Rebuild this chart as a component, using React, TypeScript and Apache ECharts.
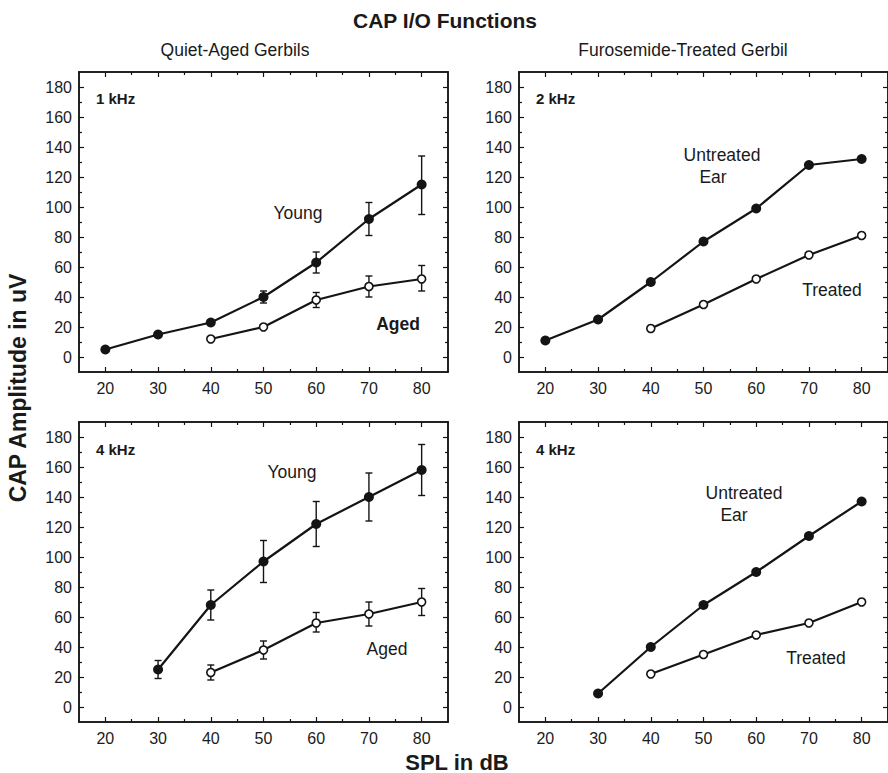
import React, { useEffect, useRef } from "react";
import * as echarts from "echarts";

// ---- data ----
const spl = [20, 30, 40, 50, 60, 70, 80];
const splFrom30 = [30, 40, 50, 60, 70, 80];
const splFrom40 = [40, 50, 60, 70, 80];

// 1 kHz, quiet-aged gerbils
const young1k = [5, 15, 23, 40, 63, 92, 115];
const young1kLow = [null, null, null, 36, 56, 81, 95];
const young1kHigh = [null, null, null, 44, 70, 103, 134];
const aged1k = [12, 20, 38, 47, 52];
const aged1kLow = [null, null, 33, 40, 44];
const aged1kHigh = [null, null, 43, 54, 61];

// 2 kHz, furosemide-treated gerbil
const untreated2k = [11, 25, 50, 77, 99, 128, 132];
const treated2k = [19, 35, 52, 68, 81];

// 4 kHz, quiet-aged gerbils
const young4k = [25, 68, 97, 122, 140, 158];
const young4kLow = [19, 58, 83, 107, 124, 141];
const young4kHigh = [31, 78, 111, 137, 156, 175];
const aged4k = [23, 38, 56, 62, 70];
const aged4kLow = [18, 32, 50, 54, 61];
const aged4kHigh = [28, 44, 63, 70, 79];

// 4 kHz, furosemide-treated gerbil
const untreated4k = [9, 40, 68, 90, 114, 137];
const treated4k = [22, 35, 48, 56, 70];

const xMajor = [20, 30, 40, 50, 60, 70, 80];
const xMinor = [25, 35, 45, 55, 65, 75];
const yMajor = [0, 20, 40, 60, 80, 100, 120, 140, 160, 180];
const yMinor = [10, 30, 50, 70, 90, 110, 130, 150, 170];

const FONT = "'Liberation Sans', Arial, Helvetica, sans-serif";
const INK = "#141414";

const pairs = (xs: number[], ys: (number | null)[]) => xs.map((x, i) => [x, ys[i]]);
const errTriples = (xs: number[], lo: (number | null)[], hi: (number | null)[]) =>
  xs
    .map((x, i) => [x, lo[i], hi[i]])
    .filter((d) => d[1] !== null && d[2] !== null);

export default function App() {
  const ref = useRef<HTMLDivElement>(null);

  useEffect(() => {
    if (!ref.current) return;
    const chart = echarts.init(ref.current, undefined, { renderer: "svg" });

    const grids = [
      { left: 79, top: 72, width: 369, height: 300 },
      { left: 519, top: 72, width: 369, height: 300 },
      { left: 79, top: 422, width: 369, height: 300 },
      { left: 519, top: 422, width: 369, height: 300 },
    ];

    const xAxes: any[] = [];
    const yAxes: any[] = [];
    const lineStyle = { color: INK, width: 1.5 };
    const labelStyle = { fontFamily: FONT, fontSize: 16, color: "#1c1c1c" };
    grids.forEach((_, g) => {
      const xa = (pos: string, labels: boolean, major: boolean) => ({
        gridIndex: g,
        type: "value",
        position: pos,
        min: 15,
        max: 85,
        axisLine: { show: true, onZero: false, lineStyle },
        splitLine: { show: false },
        axisTick: {
          show: true,
          inside: true,
          length: major ? 5 : 3,
          customValues: major ? xMajor : xMinor,
          lineStyle: { color: INK, width: 1.2 },
        },
        axisLabel: { show: labels, customValues: xMajor, margin: 8, ...labelStyle },
      });
      const ya = (pos: string, labels: boolean, major: boolean) => ({
        gridIndex: g,
        type: "value",
        position: pos,
        min: -10,
        max: 190,
        axisLine: { show: true, onZero: false, lineStyle },
        splitLine: { show: false },
        axisTick: {
          show: true,
          inside: true,
          length: major ? 5 : 3,
          customValues: major ? yMajor : yMinor,
          lineStyle: { color: INK, width: 1.2 },
        },
        axisLabel: { show: labels, customValues: yMajor, margin: 7, ...labelStyle },
      });
      xAxes.push(xa("bottom", true, true), xa("top", false, true), xa("bottom", false, false), xa("top", false, false));
      yAxes.push(ya("left", true, true), ya("right", false, true), ya("left", false, false), ya("right", false, false));
    });

    const filled = (g: number, data: any[]) => ({
      type: "line",
      xAxisIndex: 4 * g,
      yAxisIndex: 4 * g,
      data,
      z: 3,
      symbol: "circle",
      symbolSize: 10,
      lineStyle: { color: INK, width: 2.2 },
      itemStyle: { color: INK, borderColor: INK, borderWidth: 0 },
    });
    const open = (g: number, data: any[]) => ({
      type: "line",
      xAxisIndex: 4 * g,
      yAxisIndex: 4 * g,
      data,
      z: 3,
      symbol: "circle",
      symbolSize: 8,
      lineStyle: { color: INK, width: 2.2 },
      itemStyle: { color: "#fff", borderColor: INK, borderWidth: 1.6 },
    });
    const errBars = (g: number, data: any[]) => ({
      type: "custom",
      xAxisIndex: 4 * g,
      yAxisIndex: 4 * g,
      data,
      z: 2,
      encode: { x: 0, y: [1, 2] },
      renderItem: (params: any, api: any) => {
        const x = api.value(0);
        const lo = api.coord([x, api.value(1)]);
        const hi = api.coord([x, api.value(2)]);
        const w = 3.5;
        const st = { stroke: INK, lineWidth: 1.4 };
        return {
          type: "group",
          children: [
            { type: "line", shape: { x1: lo[0], y1: lo[1], x2: hi[0], y2: hi[1] }, style: st },
            { type: "line", shape: { x1: lo[0] - w, y1: lo[1], x2: lo[0] + w, y2: lo[1] }, style: st },
            { type: "line", shape: { x1: hi[0] - w, y1: hi[1], x2: hi[0] + w, y2: hi[1] }, style: st },
          ],
        };
      },
    });

    const series = [
      errBars(0, errTriples(spl, young1kLow, young1kHigh)),
      errBars(0, errTriples(splFrom40, aged1kLow, aged1kHigh)),
      filled(0, pairs(spl, young1k)),
      open(0, pairs(splFrom40, aged1k)),
      filled(1, pairs(spl, untreated2k)),
      open(1, pairs(splFrom40, treated2k)),
      errBars(2, errTriples(splFrom30, young4kLow, young4kHigh)),
      errBars(2, errTriples(splFrom40, aged4kLow, aged4kHigh)),
      filled(2, pairs(splFrom30, young4k)),
      open(2, pairs(splFrom40, aged4k)),
      filled(3, pairs(splFrom30, untreated4k)),
      open(3, pairs(splFrom40, treated4k)),
    ];

    const txt = (
      text: string,
      x: number,
      y: number,
      size: number,
      bold: boolean,
      align: string = "center",
      rotation = 0
    ) => ({
      type: "text",
      x,
      y,
      rotation,
      z: 10,
      style: {
        text,
        fontFamily: FONT,
        fontSize: size,
        fontWeight: bold ? "bold" : "normal",
        fill: "#1a1a1a",
        textAlign: align,
        textVerticalAlign: "middle",
      },
    });

    const graphic = [
      txt("CAP I/O Functions", 445, 20, 21, true),
      txt("Quiet-Aged Gerbils", 235, 50, 17.5, false),
      txt("Furosemide-Treated Gerbil", 683, 50, 17.5, false),
      txt("CAP Amplitude in uV", 18, 388, 23, true, "center", Math.PI / 2),
      txt("SPL in dB", 457, 762, 22, true),
      txt("1 kHz", 96, 98, 15, true, "left"),
      txt("Young", 298, 213, 17.5, false),
      txt("Aged", 398, 324, 17.5, true),
      txt("2 kHz", 536, 98, 15, true, "left"),
      txt("Untreated", 722, 155, 17.5, false),
      txt("Ear", 713, 177, 17.5, false),
      txt("Treated", 832, 290, 17.5, false),
      txt("4 kHz", 96, 449, 15, true, "left"),
      txt("Young", 292, 472, 17.5, false),
      txt("Aged", 387, 649, 17.5, false),
      txt("4 kHz", 536, 449, 15, true, "left"),
      txt("Untreated", 744, 493, 17.5, false),
      txt("Ear", 734, 515, 17.5, false),
      txt("Treated", 816, 658, 17.5, false),
    ];

    chart.setOption({
      animation: false,
      backgroundColor: "#fff",
      grid: grids,
      xAxis: xAxes,
      yAxis: yAxes,
      series,
      graphic,
    });

    return () => chart.dispose();
  }, []);

  return (
    <div
      ref={ref}
      style={{ position: "fixed", left: 0, top: 0, width: 888, height: 773, background: "#fff" }}
    />
  );
}
